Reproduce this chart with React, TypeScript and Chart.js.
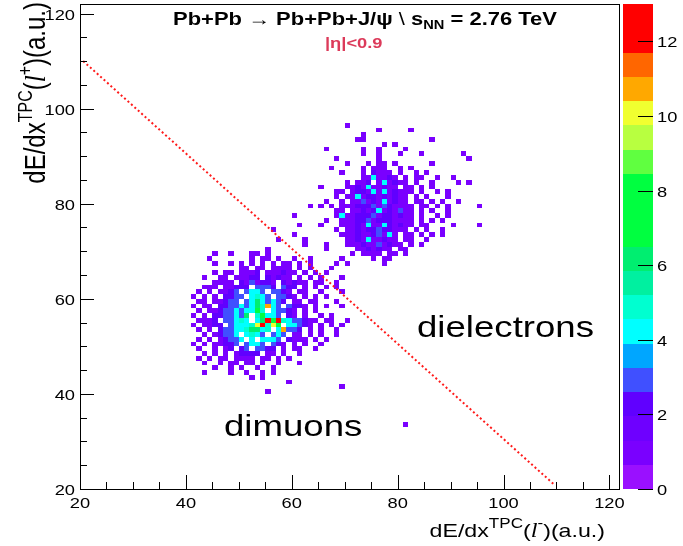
import { useEffect, useRef } from "react";
import { Chart, registerables } from "chart.js";

Chart.register(...registerables);

// Axis ranges (histogram frame) and palette range
const X_MIN = 20;
const X_MAX = 122;
const Y_MIN = 20;
const Y_MAX = 122;
const Z_MAX = 13;
const CONTOURS = 20;

const axisTickLabels = [20, 40, 60, 80, 100, 120];
const paletteTickLabels = [0, 2, 4, 6, 8, 10, 12];

// One colour per contour band, bottom (0) to top (Z_MAX)
const paletteColours = [
  "#9a10ff", "#7a00ff", "#6e00ff", "#6000ff", "#4050ff",
  "#00a6ff", "#00ffff", "#00ffd0", "#00f0a0", "#00ee70",
  "#00ff40", "#00ff40", "#00ff40", "#60ff40", "#b8ff40",
  "#f0ff30", "#ffa800", "#ff6600", "#ff0000", "#ff0000",
];

// Dimuon cluster: counts per 1x1 bin, rows from the top; '.' = empty, digits base 36
const muonFirstX = 40;
const muonTopY = 74;
const muonRows = [
  "................1",
  "",
  ".................1....1",
  "..........................1...1",
  "...............1..........1",
  ".....1..1...11.1...............1",
  "....1.......1.11.1..1..1.....1",
  ".....1..1.1.1.1.1.11.1.1....1.1",
  "..........11.11.1111.1.1...1",
  ".....1.11.1112.111211.1.1.1",
  "...1..11.11122.21211.1.1.1...1",
  ".....1111.2131221.21211.11..1",
  "...111.11222.3332.322.1.1.1.1",
  "..1.1.1123.3443.3321.11..1...1",
  ".1.1.1.2233.4543.3321.1.1.1",
  "..11.11233.34643432.11.11...1",
  ".1.11.223343465b43.3221.1.1..1",
  "..1.11233434475.43321.1.1",
  ".1.1.2233436.57443.21.1..1.1",
  "..1112.33454.46c7d5433211.11..1",
  ".1.1122.34445ac5a7.44321.1.1.1",
  "..1.1.2334456645.4b332.1.1..1",
  "...1.12334.4543.343.11.1.1..1",
  "..1.1.12334.4.4443.2111.1.1",
  ".1.1.11223.3443.321.1.1..1",
  "..1..1.12.23.3322.1.11..1",
  "...1.1.1.12222.11.1..1",
  "..1.1.11.1111.11.1.1",
  "...1..1.11.11.1..1...1",
  ".....1..1.1..1..1",
  "...1....1..1..1.1",
  "............1.1",
  "...................1",
  ".............................1",
  "...............1",
];

// Dielectron cluster, same encoding
const electronFirstX = 59;
const electronTopY = 96;
const electronRows = [
  "...........1",
  ".................1.....1",
  "..............1",
  ".............11............1",
  "..................1.1",
  ".......1......1..1....1",
  "..............1..1...1...1.......1",
  ".........1.......1................1",
  "...........1...1.11.1......1",
  "........1.....1.111..1.1",
  "..........1...1.2111.1..1.1",
  "..............1141121.1.11..1..1",
  "...........1.112.141211.1..1....1.1",
  "......1....1121411211.11.1.1",
  ".........11.122141412111.1..1.1",
  ".........1.114122121211.1.1...1",
  ".......1..1.11312141211.11.1.1..1",
  "....1.1.1.11122231321111.11.1.1.....1",
  ".........11.112124121311.1.1..1",
  ".1.......141122231221211.1..1.1",
  ".......1..11122312221111.1.1.1",
  "..1...1...11121411421211.11....1....1",
  ".........1.112122322111.1.1..1",
  ".1........11121123141.11.1.1.1",
  "...........1121411211.11..1",
  "...1.......11121131211.1.1",
  ".......1.....1121211.11",
  "..............1111.11.1",
  "................1.11",
  "..................1",
];

// Lone bins outside the two clusters: [x, y, count]
const strayBins = [[81, 33, 1]];

// Separation cut between the two populations
const cutX = [20.6, 109.5];
const cutY = [110, 21];

const SANS = '"Liberation Sans", Arial, Helvetica, sans-serif';
const SERIF = '"Liberation Serif", "Times New Roman", serif';
const SX = 1.22; // horizontal text stretch

type Cell = { x: number; y: number; n: number };
type Run = { t: string; font: string; dy?: number };

function rowsToCells(rows: string[], firstX: number, topY: number): Cell[] {
  const out: Cell[] = [];
  rows.forEach((row, r) => {
    for (let i = 0; i < row.length; i++) {
      const ch = row[i];
      if (ch === ".") continue;
      out.push({ x: firstX + i + 0.5, y: topY - r + 0.5, n: parseInt(ch, 36) });
    }
  });
  return out;
}

function colourFor(n: number): string {
  const band = Math.min(CONTOURS - 1, Math.floor((n / Z_MAX) * CONTOURS + 1e-6));
  return paletteColours[Math.max(0, band)];
}

function runsWidth(ctx: CanvasRenderingContext2D, runs: Run[]) {
  let w = 0;
  for (const r of runs) {
    ctx.font = r.font;
    w += ctx.measureText(r.t).width;
  }
  return w;
}

function drawRuns(ctx: CanvasRenderingContext2D, runs: Run[]) {
  let cx = 0;
  for (const r of runs) {
    ctx.font = r.font;
    ctx.fillText(r.t, cx, r.dy || 0);
    cx += ctx.measureText(r.t).width;
  }
}

// Horizontal text, anchored at x by align, on baseline y
function text(
  ctx: CanvasRenderingContext2D,
  runs: Run[],
  x: number,
  y: number,
  align: "left" | "center" | "right",
  colour = "#000"
) {
  ctx.save();
  ctx.fillStyle = colour;
  ctx.textAlign = "left";
  ctx.textBaseline = "alphabetic";
  const w = runsWidth(ctx, runs) * SX;
  const left = align === "left" ? x : align === "center" ? x - w / 2 : x - w;
  ctx.translate(left, y);
  ctx.scale(SX, 1);
  drawRuns(ctx, runs);
  ctx.restore();
}

const cellsPlugin = {
  id: "histCells",
  beforeDatasetsDraw(chart: any) {
    const { ctx, chartArea, scales } = chart;
    const xs = scales.x;
    const ys = scales.y;
    const cells: Cell[] = chart.data.datasets[0].data;
    ctx.save();
    ctx.beginPath();
    ctx.rect(chartArea.left, chartArea.top, chartArea.width, chartArea.height);
    ctx.clip();
    for (const c of cells) {
      const x0 = Math.round(xs.getPixelForValue(c.x - 0.5));
      const x1 = Math.round(xs.getPixelForValue(c.x + 0.5));
      const y0 = Math.round(ys.getPixelForValue(c.y - 0.5));
      const y1 = Math.round(ys.getPixelForValue(c.y + 0.5));
      ctx.fillStyle = colourFor(c.n);
      ctx.fillRect(x0, y1, x1 - x0, y0 - y1);
    }
    ctx.restore();
  },
};

const framePlugin = {
  id: "rootFrame",
  afterDraw(chart: any) {
    const { ctx, chartArea, scales } = chart;
    const xs = scales.x;
    const ys = scales.y;
    const zs = scales.z;
    const { left, right, top, bottom } = chartArea;
    ctx.save();

    // frame
    ctx.strokeStyle = "#000";
    ctx.lineWidth = 1;
    ctx.strokeRect(Math.round(left) + 0.5, Math.round(top) + 0.5, Math.round(right - left) - 1, Math.round(bottom - top));

    // axis ticks, drawn inward
    ctx.beginPath();
    for (let v = X_MIN; v <= 120; v += 5) {
      const px = Math.round(xs.getPixelForValue(v)) + 0.5;
      const len = v % 20 === 0 ? 14 : 7;
      ctx.moveTo(px, bottom);
      ctx.lineTo(px, bottom - len);
    }
    for (let v = Y_MIN; v <= 120; v += 5) {
      const py = Math.round(ys.getPixelForValue(v)) + 0.5;
      const len = v % 20 === 0 ? 14 : 7;
      ctx.moveTo(left, py);
      ctx.lineTo(left + len, py);
    }
    ctx.stroke();

    const tickFont = `15px ${SANS}`;
    for (const v of axisTickLabels) {
      text(ctx, [{ t: String(v), font: tickFont }], xs.getPixelForValue(v), bottom + 19, "center");
      text(ctx, [{ t: String(v), font: tickFont }], left - 5, ys.getPixelForValue(v) + 6, "right");
    }

    // colour palette bar
    const barL = right + 3;
    const barR = right + 33;
    for (let k = 0; k < CONTOURS; k++) {
      const v0 = (k * Z_MAX) / CONTOURS;
      const v1 = ((k + 1) * Z_MAX) / CONTOURS;
      const p0 = Math.round(zs.getPixelForValue(v0));
      const p1 = Math.round(zs.getPixelForValue(v1));
      ctx.fillStyle = paletteColours[k];
      ctx.fillRect(barL, p1, barR - barL, p0 - p1);
    }
    ctx.beginPath();
    for (const v of paletteTickLabels) {
      const py = Math.round(zs.getPixelForValue(v)) + 0.5;
      ctx.moveTo(barR, py);
      ctx.lineTo(barR - 15, py);
    }
    ctx.strokeStyle = "#000";
    ctx.stroke();
    for (const v of paletteTickLabels) {
      text(ctx, [{ t: String(v), font: tickFont }], barR + 4, zs.getPixelForValue(v) + 6, "left");
    }

    // axis titles
    const tFont = `19px ${SANS}`;
    const supFont = `14px ${SANS}`;
    const lFont = `italic 20px ${SERIF}`;
    const xTitle: Run[] = [
      { t: "dE/dx", font: tFont },
      { t: "TPC", font: supFont, dy: -9 },
      { t: "(", font: tFont },
      { t: "l", font: lFont },
      { t: "-", font: supFont, dy: -9 },
      { t: ")(a.u.)", font: tFont },
    ];
    text(ctx, xTitle, right - 15, 537, "right");

    const yFont = `24px ${SANS}`;
    const ySup = `16px ${SANS}`;
    const yTitle: Run[] = [
      { t: "dE/dx", font: yFont },
      { t: "TPC", font: ySup, dy: -11 },
      { t: "(", font: yFont },
      { t: "l", font: `italic 25px ${SERIF}` },
      { t: "+", font: ySup, dy: -11 },
      { t: ")(a.u.)", font: yFont },
    ];
    ctx.save();
    const yw = runsWidth(ctx, yTitle);
    ctx.fillStyle = "#000";
    ctx.textBaseline = "alphabetic";
    ctx.translate(45, top - 2 + yw);
    ctx.rotate(-Math.PI / 2);
    ctx.scale(1, SX);
    drawRuns(ctx, yTitle);
    ctx.restore();

    // plot annotations
    const bold = `bold 18px ${SANS}`;
    const boldSub = `bold 12px ${SANS}`;
    text(
      ctx,
      [
        { t: "Pb+Pb \u2192 Pb+Pb+J/\u03c8 ", font: bold },
        { t: "\\", font: `18px ${SANS}` },
        { t: " s", font: bold },
        { t: "NN", font: boldSub, dy: 4 },
        { t: " = 2.76 TeV", font: bold },
      ],
      173,
      25,
      "left"
    );
    text(ctx, [{ t: "|\u03b7|<0.9", font: `bold 15px ${SANS}` }], 325, 48, "left", "#dc3a5a");
    text(ctx, [{ t: "dimuons", font: `30px ${SANS}` }], 224, 436, "left");
    text(ctx, [{ t: "dielectrons", font: `30px ${SANS}` }], 417, 337, "left");

    ctx.restore();
  },
};

export default function App() {
  const canvasRef = useRef<HTMLCanvasElement | null>(null);

  useEffect(() => {
    const canvas = canvasRef.current;
    if (!canvas) return;
    const cells: Cell[] = [
      ...rowsToCells(muonRows, muonFirstX, muonTopY),
      ...rowsToCells(electronRows, electronFirstX, electronTopY),
      ...strayBins.map(([x, y, n]) => ({ x: x + 0.5, y: y + 0.5, n })),
    ];
    const chart = new Chart(canvas, {
      type: "scatter",
      data: {
        datasets: [
          { label: "entries", data: cells as any, pointRadius: 0, pointHoverRadius: 0 },
          {
            type: "line",
            label: "cut",
            data: cutX.map((x, i) => ({ x, y: cutY[i] })),
            borderColor: "#ff1a1a",
            borderWidth: 2,
            borderDash: [2, 2.6],
            pointRadius: 0,
            fill: false,
          } as any,
        ],
      },
      options: {
        responsive: false,
        animation: false,
        events: [],
        layout: { padding: { left: 80, right: 63, top: 4, bottom: 57 } },
        plugins: { legend: { display: false }, tooltip: { enabled: false } },
        scales: {
          x: { type: "linear", min: X_MIN, max: X_MAX, display: false },
          y: { type: "linear", min: Y_MIN, max: Y_MAX, display: false },
          z: { type: "linear", axis: "y", position: "right", min: 0, max: Z_MAX, display: false } as any,
        },
      },
      plugins: [cellsPlugin, framePlugin],
    });
    return () => chart.destroy();
  }, []);

  return (
    <div style={{ position: "fixed", left: 0, top: 0, width: 683, height: 546, background: "#fff" }}>
      <canvas ref={canvasRef} width={683} height={546} style={{ display: "block" }} />
    </div>
  );
}
